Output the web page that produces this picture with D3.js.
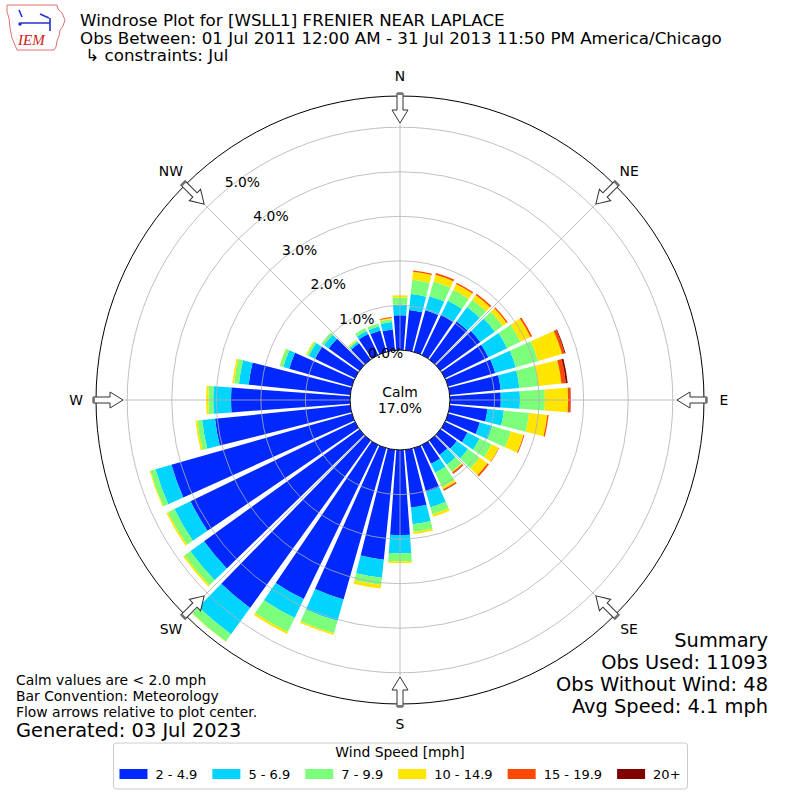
<!DOCTYPE html>
<html>
<head>
<meta charset="utf-8">
<script src="https://cdn.jsdelivr.net/npm/d3@7"></script>
<style>
  body { margin: 0; background: #fff; }
  svg { font-family: "DejaVu Sans", sans-serif; }
</style>
</head>
<body>
<div id="chart"></div>
<script>
// direction bins (deg, meteorological, centre of 10 deg sector)
const directions = [0, 10, 20, 30, 40, 50, 60, 70, 80, 90, 100, 110, 120, 130, 140, 150, 160, 170,
  180, 190, 200, 210, 220, 230, 240, 250, 260, 270, 280, 290, 300, 310, 320, 330, 340, 350];

const speedBins = ['2 - 4.9', '5 - 6.9', '7 - 9.9', '10 - 14.9', '15 - 19.9', '20+'];
const binColors = ['#0028ff', '#00d4ff', '#7cff7a', '#ffe500', '#ff4800', '#800000'];

// percent of obs per direction, one array per speed bin
const pct2to5 = [0.78, 0.91, 0.97, 1.00, 1.05, 1.10, 1.08, 1.10, 1.15, 1.14, 0.85, 0.74, 0.56, 0.45, 0.40, 0.47, 1.02, 1.30,
  1.91, 2.48, 3.53, 3.84, 4.63, 4.30, 4.10, 4.21, 3.05, 2.67, 2.29, 1.46, 1.00, 0.85, 0.45, 0.52, 0.50, 0.47];
const pct5to7 = [0.24, 0.36, 0.33, 0.35, 0.40, 0.40, 0.47, 0.48, 0.42, 0.43, 0.37, 0.29, 0.30, 0.31, 0.27, 0.22, 0.36, 0.38,
  0.41, 0.41, 0.50, 0.47, 0.73, 0.38, 0.40, 0.37, 0.29, 0.40, 0.22, 0.14, 0.15, 0.13, 0.05, 0.08, 0.10, 0.17];
const pct7to10 = [0.16, 0.32, 0.34, 0.27, 0.20, 0.22, 0.33, 0.52, 0.43, 0.56, 0.57, 0.43, 0.30, 0.32, 0.19, 0.36, 0.16, 0.17,
  0.18, 0.16, 0.29, 0.35, 0.20, 0.16, 0.16, 0.12, 0.11, 0.11, 0.11, 0.08, 0.05, 0.07, 0.03, 0.07, 0.06, 0.06];
const pct10to15 = [0.05, 0.18, 0.16, 0.15, 0.13, 0.11, 0.25, 0.56, 0.52, 0.52, 0.41, 0.30, 0.18, 0.22, 0.02, 0.05, 0.06, 0.05,
  0.04, 0.08, 0.04, 0.05, 0.01, 0.04, 0.04, 0.02, 0.04, 0.05, 0.04, 0.01, 0.02, 0.00, 0.02, 0.00, 0.00, 0.03];
const pct15to20 = [0.00, 0.03, 0.04, 0.03, 0.04, 0.03, 0.04, 0.06, 0.10, 0.05, 0.03, 0.02, 0.01, 0.04, 0.03, 0.03, 0.00, 0.00,
  0.00, 0.00, 0.00, 0.00, 0.00, 0.00, 0.00, 0.00, 0.00, 0.00, 0.00, 0.00, 0.00, 0.00, 0.00, 0.00, 0.00, 0.02];
const pct20plus = [0, 0, 0, 0, 0, 0, 0, 0.02, 0.04, 0.01, 0, 0, 0, 0, 0.01, 0.01, 0, 0,
  0, 0, 0, 0, 0, 0, 0, 0, 0, 0, 0, 0, 0, 0, 0, 0, 0, 0];

const ringTicks = [0, 1, 2, 3, 4, 5];
const compassLabels = ['N', 'NE', 'E', 'SE', 'S', 'SW', 'W', 'NW'];
const compassAngles = [0, 45, 90, 135, 180, 225, 270, 315];

const calmPct = 17.0;
const titleLines = [
  'Windrose Plot for [WSLL1] FRENIER NEAR LAPLACE',
  'Obs Between: 01 Jul 2011 12:00 AM - 31 Jul 2013 11:50 PM America/Chicago',
  ' \u21b3 constraints: Jul'
];
const noteLines = ['Calm values are < 2.0 mph', 'Bar Convention: Meteorology', 'Flow arrows relative to plot center.'];
const generatedText = 'Generated: 03 Jul 2023';
const summaryLines = ['Summary', 'Obs Used: 11093', 'Obs Without Wind: 48', 'Avg Speed: 4.1 mph'];

const width = 800, height = 800;
const cx = 400, cy = 400;

const svg = d3.select('#chart')
  .append('svg')
  .attr('width', width)
  .attr('height', height);

const r = d3.scaleLinear().domain([0, 5.7]).range([50, 304]);
const ang = d3.scaleLinear().domain([0, 360]).range([0, 2 * Math.PI]);
const halfSector = 4.2;

// stack the speed bins for every direction
const series = [pct2to5, pct5to7, pct7to10, pct10to15, pct15to20, pct20plus];
const keys = speedBins.map((s, k) => 'b' + k);
const rows = directions.map((dir, i) => {
  const row = { dir: dir };
  keys.forEach((key, k) => row[key] = series[k][i]);
  return row;
});
const stacked = d3.stack().keys(keys)(rows);

const plot = svg.append('g').attr('transform', `translate(${cx},${cy})`);
const arc = d3.arc();

stacked.forEach((layer, k) => {
  plot.append('g')
    .selectAll('path')
    .data(layer.filter(d => d[1] - d[0] > 0))
    .enter()
    .append('path')
    .attr('d', d => arc({
      innerRadius: r(d[0]),
      outerRadius: r(d[1]),
      startAngle: ang(d.data.dir - halfSector),
      endAngle: ang(d.data.dir + halfSector)
    }))
    .attr('fill', binColors[k]);
});

// grid on top of bars
plot.selectAll('.ring')
  .data(ringTicks.slice(1))
  .enter()
  .append('circle')
  .attr('r', d => r(d))
  .attr('fill', 'none')
  .attr('stroke', '#b0b0b0')
  .attr('stroke-width', 0.8);

plot.selectAll('.spoke')
  .data(compassAngles)
  .enter()
  .append('line')
  .attr('x1', 0).attr('y1', 0)
  .attr('x2', d => r(5.7) * Math.sin(ang(d)))
  .attr('y2', d => -r(5.7) * Math.cos(ang(d)))
  .attr('stroke', '#b0b0b0')
  .attr('stroke-width', 0.8);

// calm circle
plot.append('circle')
  .attr('r', r(0))
  .attr('fill', '#fff')
  .attr('stroke', '#000')
  .attr('stroke-width', 1);

plot.append('text')
  .attr('text-anchor', 'middle')
  .attr('y', -3)
  .style('font-size', '13.9px')
  .text('Calm');
plot.append('text')
  .attr('text-anchor', 'middle')
  .attr('y', 13)
  .style('font-size', '13.9px')
  .text(calmPct.toFixed(1) + '%');

// outer frame
plot.append('circle')
  .attr('r', r(5.7))
  .attr('fill', 'none')
  .attr('stroke', '#000')
  .attr('stroke-width', 1);

// ring labels
const labelAngle = 320;
plot.selectAll('.rlabel')
  .data(ringTicks)
  .enter()
  .append('text')
  .attr('x', d => r(d) * Math.sin(ang(labelAngle)))
  .attr('y', d => -r(d) * Math.cos(ang(labelAngle)) - 4)
  .style('font-size', '13.9px')
  .text(d => d.toFixed(1) + '%');

// flow arrows at the compass points
const arrows = plot.selectAll('.arrow')
  .data(compassAngles)
  .enter()
  .append('g')
  .attr('transform', d => `rotate(${d})`);

const tipR = 277, tailR = 307, headLen = 13, headHalf = 8, shaftHalf = 3;
arrows.append('path')
  .attr('d', `M0,${-tipR} L${headHalf},${-tipR - headLen} L${shaftHalf},${-tipR - headLen} ` +
    `L${shaftHalf},${-tailR} L${-shaftHalf},${-tailR} L${-shaftHalf},${-tipR - headLen} ` +
    `L${-headHalf},${-tipR - headLen} Z`)
  .attr('fill', '#fff')
  .attr('stroke', '#333')
  .attr('stroke-width', 1);
arrows.append('rect')
  .attr('x', -shaftHalf)
  .attr('y', -tailR)
  .attr('width', shaftHalf * 2)
  .attr('height', 2)
  .attr('fill', '#777');

// compass labels
plot.selectAll('.clabel')
  .data(compassLabels)
  .enter()
  .append('text')
  .attr('x', (d, i) => 324 * Math.sin(ang(compassAngles[i])))
  .attr('y', (d, i) => -324 * Math.cos(ang(compassAngles[i])))
  .attr('text-anchor', 'middle')
  .attr('dominant-baseline', 'central')
  .style('font-size', '13.9px')
  .text(d => d);

// title block
svg.selectAll('.title')
  .data(titleLines)
  .enter()
  .append('text')
  .attr('x', 80)
  .attr('y', (d, i) => 26 + i * 17.5)
  .style('font-size', '16.7px')
  .style('white-space', 'pre')
  .attr('xml:space', 'preserve')
  .text(d => d);

// notes bottom-left
svg.selectAll('.note')
  .data(noteLines)
  .enter()
  .append('text')
  .attr('x', 16)
  .attr('y', (d, i) => 685 + i * 16)
  .style('font-size', '13.9px')
  .text(d => d);
svg.append('text')
  .attr('x', 16)
  .attr('y', 737)
  .style('font-size', '19.4px')
  .text(generatedText);

// summary bottom-right
svg.selectAll('.summary')
  .data(summaryLines)
  .enter()
  .append('text')
  .attr('x', 768)
  .attr('y', (d, i) => 647 + i * 22)
  .attr('text-anchor', 'end')
  .style('font-size', '19.4px')
  .text(d => d);

// legend
const legend = svg.append('g');
const legendBox = legend.append('rect')
  .attr('y', 743)
  .attr('height', 46)
  .attr('rx', 3)
  .attr('fill', '#fff')
  .attr('stroke', '#ccc');
legend.append('text')
  .attr('x', 400)
  .attr('y', 757)
  .attr('text-anchor', 'middle')
  .style('font-size', '13.9px')
  .text('Wind Speed [mph]');

const items = legend.selectAll('.item')
  .data(speedBins)
  .enter()
  .append('g');
items.append('rect')
  .attr('width', 28)
  .attr('height', 10)
  .attr('y', 769)
  .attr('fill', (d, i) => binColors[i]);
const itemText = items.append('text')
  .attr('y', 779)
  .style('font-size', '13px')
  .text(d => d);

let widths = [];
itemText.each(function () { widths.push(this.getComputedTextLength()); });
const totalW = d3.sum(widths) + speedBins.length * 36 + (speedBins.length - 1) * 15;
let xPos = 400 - totalW / 2;
items.each(function (d, i) {
  const g = d3.select(this);
  g.select('rect').attr('x', xPos);
  g.select('text').attr('x', xPos + 36);
  xPos += 36 + widths[i] + 15;
});
legendBox.attr('x', 400 - totalW / 2 - 6).attr('width', totalW + 13);

// IEM logo (rough sketch)
const logo = svg.append('g');
logo.append('path')
  .attr('d', 'M7,5 L57,5 L58,9 L62,13 L65,20 L63,26 L60,30 L59,36 L57,41 L56,47 L54,50 L17,50 L15,45 L12,38 L10,28 L9,18 L7,12 Z')
  .attr('fill', 'none')
  .attr('stroke', '#e07070')
  .attr('stroke-width', 1);
logo.append('path')
  .attr('d', 'M21,23 L50,23 M50,18 L50,31 M40,14 L49,18 M19,10 L22,17')
  .attr('fill', 'none')
  .attr('stroke', '#2233cc')
  .attr('stroke-width', 1.6);
logo.append('circle')
  .attr('cx', 20).attr('cy', 24).attr('r', 1.8)
  .attr('fill', '#2233cc');
logo.append('text')
  .attr('x', 18)
  .attr('y', 45)
  .style('font-family', '"Liberation Serif", serif')
  .style('font-style', 'italic')
  .style('font-size', '15px')
  .attr('fill', '#d02020')
  .text('IEM');
</script>
</body>
</html>
